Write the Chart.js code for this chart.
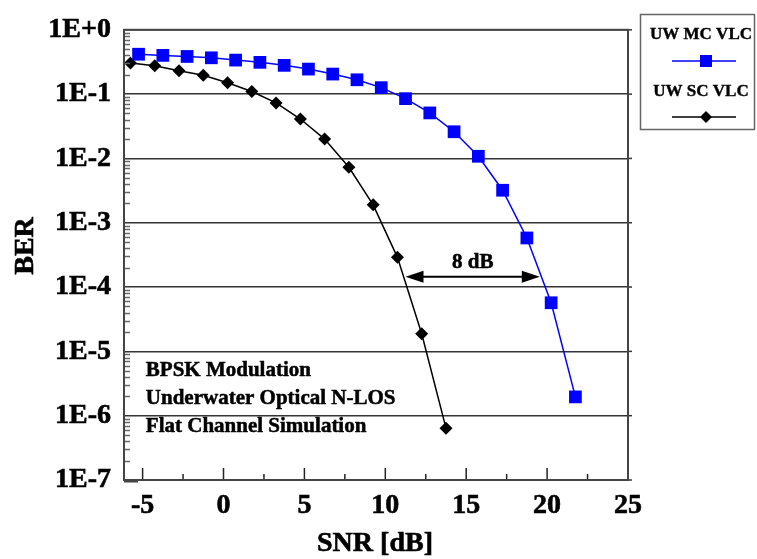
<!DOCTYPE html>
<html>
<head>
<meta charset="utf-8">
<script src="https://cdn.jsdelivr.net/npm/chart.js@4.4.1/dist/chart.umd.min.js"></script>
<style>
  html, body { margin: 0; padding: 0; background: #fff; }
  canvas { display: block; }
</style>
</head>
<body>
<canvas id="chart" width="757" height="559"></canvas>
<script>
// SNR (dB) vs BER
const mcSnr = [-5.25, -3.75, -2.25, -0.75, 0.75, 2.25, 3.75, 5.25, 6.75, 8.25, 9.75, 11.25, 12.75, 14.25, 15.75, 17.25, 18.75, 20.25, 21.75];
const mcBer = [0.417, 0.40, 0.385, 0.367, 0.338, 0.312, 0.28, 0.245, 0.205, 0.167, 0.126, 0.085, 0.051, 0.026, 0.0108, 0.0032, 5.8e-4, 5.7e-5, 1.96e-6];
const scSnr = [-5.75, -4.25, -2.75, -1.25, 0.25, 1.75, 3.25, 4.75, 6.25, 7.75, 9.25, 10.75, 12.25, 13.75];
const scBer = [0.305, 0.275, 0.23, 0.196, 0.15, 0.11, 0.073, 0.041, 0.02, 0.0073, 0.0019, 2.9e-4, 1.88e-5, 6.4e-7];

const seriesNames = ['UW MC VLC', 'UW SC VLC'];
const xTicks = [-5, 0, 5, 10, 15, 20, 25];
const yTicks = [1e-7, 1e-6, 1e-5, 1e-4, 1e-3, 1e-2, 1e-1, 1];
const yTickLabels = ['1E-7', '1E-6', '1E-5', '1E-4', '1E-3', '1E-2', '1E-1', '1E+0'];
const notes = ['BPSK Modulation', 'Underwater Optical N-LOS', 'Flat Channel Simulation'];
const gapLabel = '8 dB';
const gapFrom = 11.25, gapTo = 19.55, gapBer = 1.45e-4;

const FONT = '"Liberation Serif", "Times New Roman", serif';

function seg(ctx, x1, y1, x2, y2) {
    ctx.beginPath();
    ctx.moveTo(x1, y1);
    ctx.lineTo(x2, y2);
    ctx.stroke();
}

function arrowHead(ctx, x, y, dir) {
    ctx.beginPath();
    ctx.moveTo(x, y);
    ctx.lineTo(x - dir * 18, y - 6);
    ctx.lineTo(x - dir * 18, y + 6);
    ctx.closePath();
    ctx.fill();
}

// bold text with a thin outline, to get the heavy look of the original
function heavyText(ctx, t, x, y, w) {
    ctx.lineWidth = w;
    ctx.strokeStyle = ctx.fillStyle;
    ctx.strokeText(t, x, y);
    ctx.fillText(t, x, y);
}

// frame, minor ticks, notes, arrow and legend box
const decor = {
    id: 'decor',
    afterDatasetsDraw(chart) {
        const { ctx, chartArea: a, scales: { x, y } } = chart;
        ctx.save();

        // minor log ticks on the left
        ctx.strokeStyle = '#666';
        ctx.lineWidth = 1.5;
        for (let e = -7; e < 0; e++) {
            for (let m = 2; m <= 9; m++) {
                const py = Math.round(y.getPixelForValue(m * Math.pow(10, e))) + 0.5;
                seg(ctx, a.left, py, a.left + 6, py);
            }
        }
        // decade marks just outside the right edge
        ctx.strokeStyle = '#333';
        yTicks.forEach(v => {
            const py = y.getPixelForValue(v);
            seg(ctx, a.right, py, a.right + 4, py);
        });

        // x ticks from the bottom axis
        ctx.strokeStyle = '#222';
        for (let v = -5; v < 25; v += 2.5) {
            const px = x.getPixelForValue(v);
            const len = v % 5 === 0 ? 12 : 6;
            seg(ctx, px, a.bottom, px, a.bottom - len);
        }

        // plot frame
        ctx.strokeStyle = '#444';
        ctx.lineWidth = 2;
        ctx.strokeRect(a.left, a.top, a.right - a.left, a.bottom - a.top);
        seg(ctx, a.left, a.bottom + 1.5, a.left + 14, a.bottom + 1.5);

        // 8 dB arrow
        const ay = y.getPixelForValue(gapBer);
        const ax1 = x.getPixelForValue(gapFrom);
        const ax2 = x.getPixelForValue(gapTo);
        ctx.strokeStyle = '#000';
        ctx.fillStyle = '#000';
        ctx.lineWidth = 2;
        seg(ctx, ax1 + 10, ay, ax2 - 10, ay);
        arrowHead(ctx, ax1, ay, -1);
        arrowHead(ctx, ax2, ay, 1);
        ctx.font = 'bold 21px ' + FONT;
        ctx.textAlign = 'center';
        ctx.textBaseline = 'alphabetic';
        heavyText(ctx, gapLabel, (ax1 + ax2) / 2, ay - 9, 0.5);

        // notes
        ctx.textAlign = 'left';
        const nx = x.getPixelForValue(-4.8);
        notes.forEach((t, i) => heavyText(ctx, t, nx, 376 + i * 28, 0.5));

        // axis titles
        ctx.font = 'bold 28px ' + FONT;
        ctx.textAlign = 'center';
        heavyText(ctx, 'SNR [dB]', (a.left + a.right) / 2 - 1, 551, 0.6);
        ctx.save();
        ctx.translate(33, 246);
        ctx.rotate(-Math.PI / 2);
        heavyText(ctx, 'BER', 0, 0, 0.6);
        ctx.restore();

        // legend box
        ctx.strokeStyle = '#666';
        ctx.lineWidth = 1.5;
        ctx.strokeRect(640.5, 14.5, 114, 115);
        ctx.font = 'bold 17px ' + FONT;
        ctx.fillStyle = '#000';
        heavyText(ctx, seriesNames[0], 701, 39, 0.4);
        heavyText(ctx, seriesNames[1], 701, 96, 0.4);
        ctx.lineWidth = 1.5;
        ctx.strokeStyle = '#0000ff';
        seg(ctx, 672, 61, 736, 61);
        ctx.fillStyle = '#0000ff';
        ctx.fillRect(700, 55, 12, 12);
        ctx.strokeStyle = '#000';
        seg(ctx, 672, 117, 736, 117);
        ctx.fillStyle = '#000';
        ctx.beginPath();
        ctx.moveTo(706, 111); ctx.lineTo(712, 117); ctx.lineTo(706, 123); ctx.lineTo(700, 117);
        ctx.closePath();
        ctx.fill();

        ctx.restore();
    }
};

new Chart(document.getElementById('chart'), {
    type: 'line',
    data: {
        datasets: [
            {
                label: seriesNames[0],
                data: mcSnr.map((v, i) => ({ x: v, y: mcBer[i] })),
                borderColor: '#0000ff',
                backgroundColor: '#0000ff',
                borderWidth: 1.5,
                pointStyle: 'rect',
                pointRadius: 9,
                pointBorderWidth: 0,
                tension: 0
            },
            {
                label: seriesNames[1],
                data: scSnr.map((v, i) => ({ x: v, y: scBer[i] })),
                borderColor: '#000',
                backgroundColor: '#000',
                borderWidth: 1.5,
                pointStyle: 'rectRot',
                pointRadius: 6.5,
                pointBorderWidth: 0,
                tension: 0
            }
        ]
    },
    options: {
        responsive: false,
        animation: false,
        clip: false,
        layout: { padding: { top: 16, right: 129, left: 0, bottom: 0 } },
        plugins: {
            legend: { display: false },
            tooltip: { enabled: false }
        },
        scales: {
            x: {
                type: 'linear',
                min: -6.15,
                max: 25,
                afterFit: s => { s.height = 79; },
                afterBuildTicks: s => { s.ticks = xTicks.map(v => ({ value: v })); },
                grid: { display: false, drawTicks: false },
                border: { display: false },
                ticks: {
                    padding: 9,
                    color: '#000',
                    textStrokeColor: '#000',
                    textStrokeWidth: 0.6,
                    font: { family: FONT, size: 28, weight: 'bold' }
                }
            },
            y: {
                type: 'logarithmic',
                min: 1e-7,
                max: 1,
                afterFit: s => { s.width = 124; },
                afterBuildTicks: s => { s.ticks = yTicks.map(v => ({ value: v })); },
                grid: { color: '#333', lineWidth: 1.5, drawTicks: false },
                border: { display: false },
                ticks: {
                    padding: 13,
                    color: '#000',
                    textStrokeColor: '#000',
                    textStrokeWidth: 0.6,
                    font: { family: FONT, size: 28, weight: 'bold' },
                    callback: (v, i) => yTickLabels[i]
                }
            }
        }
    },
    plugins: [decor]
});
</script>
</body>
</html>
